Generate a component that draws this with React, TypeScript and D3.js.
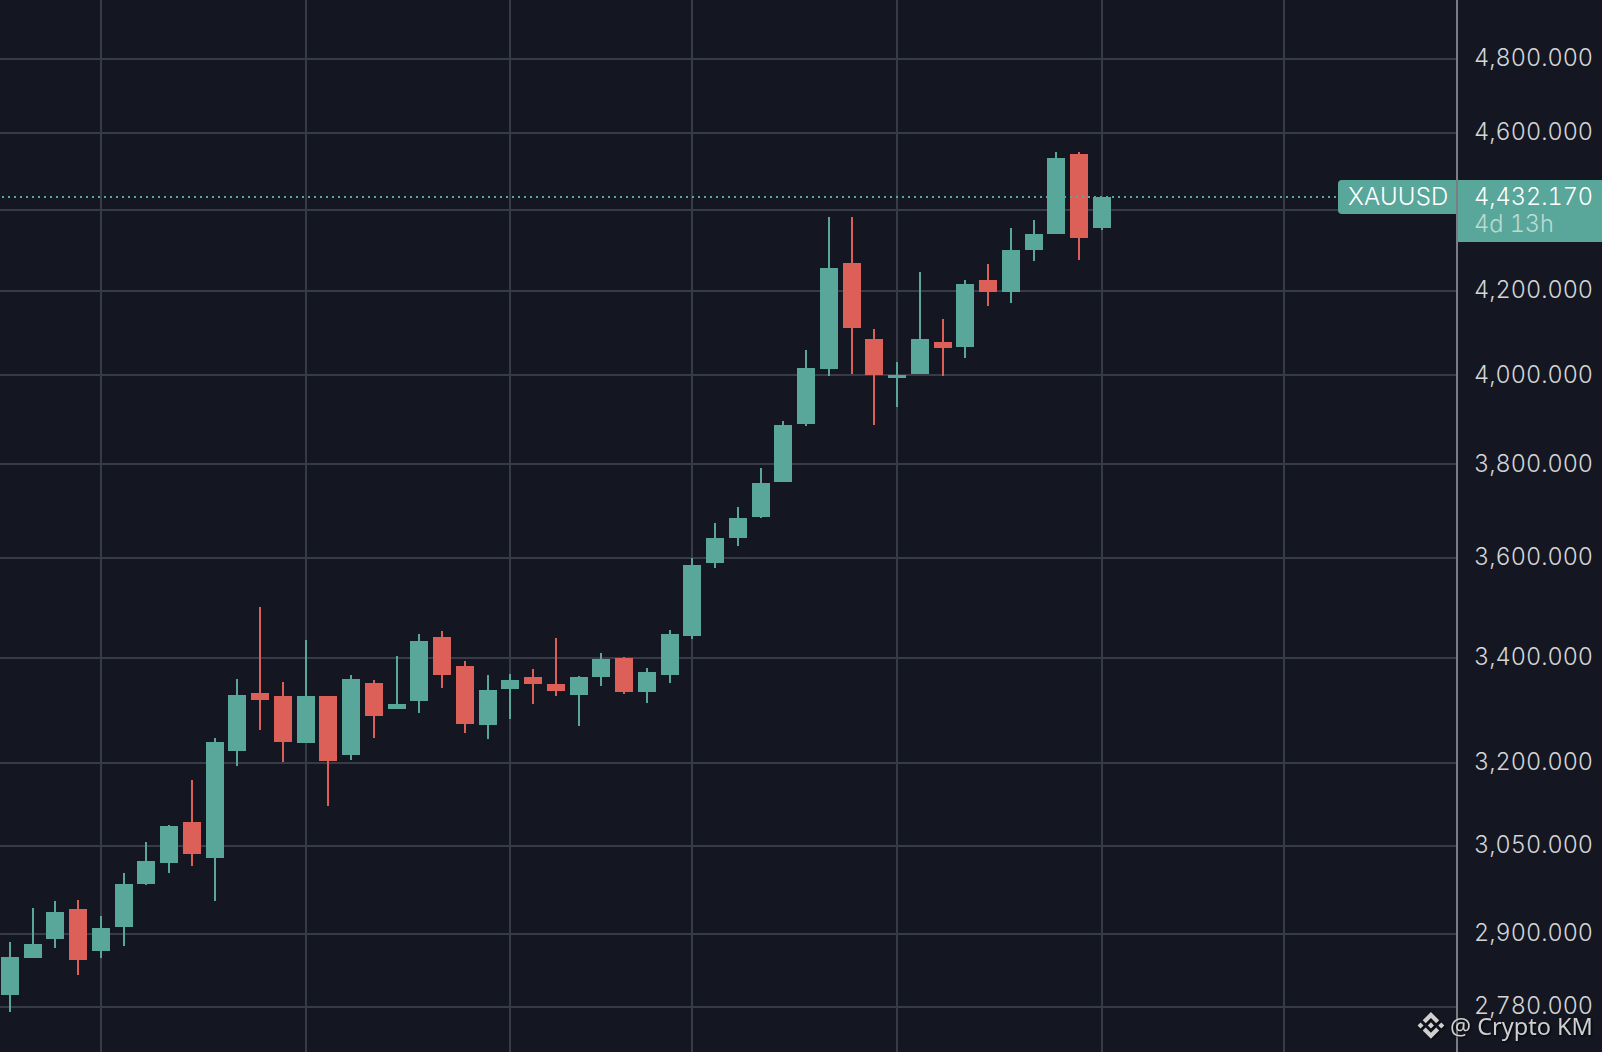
import { useEffect, useRef } from "react";
import * as d3 from "d3";

const opens = [2799, 2859, 2891, 2941, 2871, 2911, 2985, 3020, 3092, 3029, 3221, 3331, 3325, 3236, 3325, 3214, 3350, 3300, 3316, 3440, 3383, 3270, 3339, 3362, 3348, 3327, 3362, 3399, 3333, 3366, 3442, 3590, 3642, 3686, 3762, 3889, 4015, 4268, 4085, 3994, 4003, 4078, 4066, 4226, 4197, 4300, 4340, 4544, 4355];
const highs = [2886, 2943, 2955, 2957, 2929, 3004, 3057, 3087, 3168, 3246, 3358, 3500, 3352, 3434, 3325, 3366, 3356, 3403, 3446, 3452, 3393, 3366, 3368, 3377, 3438, 3364, 3409, 3401, 3379, 3454, 3600, 3674, 3708, 3792, 3896, 4059, 4382, 4382, 4108, 4031, 4246, 4132, 4226, 4265, 4355, 4375, 4550, 4550, 4433];
const lows = [2772, 2859, 2877, 2832, 2859, 2879, 2982, 3003, 3015, 2956, 3194, 3261, 3201, 3236, 3121, 3205, 3246, 3300, 3293, 3340, 3255, 3244, 3281, 3310, 3325, 3268, 3344, 3329, 3312, 3350, 3436, 3580, 3625, 3684, 3762, 3885, 3999, 4003, 3887, 3928, 4003, 3999, 4040, 4163, 4170, 4273, 4340, 4275, 4350];
const closes = [2861, 2883, 2936, 2856, 2909, 2984, 3024, 3085, 3036, 3238, 3327, 3317, 3238, 3325, 3203, 3358, 3287, 3310, 3432, 3366, 3272, 3337, 3356, 3348, 3335, 3362, 3397, 3333, 3371, 3446, 3586, 3642, 3684, 3759, 3887, 4017, 4255, 4111, 4001, 4001, 4085, 4064, 4216, 4197, 4300, 4340, 4534, 4330, 4432.17];

const priceTicks = [2780, 2900, 3050, 3200, 3400, 3600, 3800, 4000, 4200, 4400, 4600, 4800];
const timeTicks = [4, 13, 22, 30, 39, 48, 56]; // candle index of each vertical grid line
const lastPrice = 4432.17;
const symbol = "XAUUSD";
const countdown = "4d 13h";
const watermark = "@ Crypto KM";

const width = 1602;
const height = 1052;
const axisX = 1456;

const bg = "#141721";
const gridColor = "#373a47";
const upColor = "#59a69a";
const downColor = "#dc5f58";

const x = d3.scaleLinear().domain([0, 56]).range([9.9, 1283.9]);
const y = d3.scaleLog().domain([2780, 4800]).range([1007.1, 58.9]);

const BINANCE_LOGO =
  "M9.79 13.45 16 7.24l6.21 6.21 3.61-3.61L16 .02 6.18 9.84l3.61 3.61zM.02 16l3.61-3.61L7.24 16l-3.61 3.61L.02 16zm9.77 2.55L16 24.76l6.21-6.21 3.61 3.61L16 31.98l-9.82-9.82 3.61-3.61zM24.76 16l3.61-3.61L31.98 16l-3.61 3.61L24.76 16zm-5.1 0L16 19.66 12.34 16 16 12.34 19.66 16z";

const priceFont = { fontVariantNumeric: "tabular-nums", fontWeight: 300 };

export default function App() {
  const axisRef = useRef<SVGGElement>(null);

  useEffect(() => {
    if (!axisRef.current) return;
    const g = d3.select(axisRef.current);
    g.selectAll("*").remove();
    g.call(
      d3
        .axisRight(y)
        .tickValues(priceTicks.filter((d) => d !== 4400)) // hidden by the price tag
        .tickSize(0)
        .tickPadding(18)
        .tickFormat((d) => d3.format(",.3f")(d as number))
    );
    g.select(".domain").remove();
    g.selectAll("text")
      .attr("font-family", "Inter")
      .attr("font-size", 23.5)
      .attr("fill", "#d4d5d7")
      .attr("dy", "0.28em")
      .style("font-variant-numeric", "tabular-nums")
      .style("font-weight", 300);
  }, []);

  return (
    <svg
      width={width}
      height={height}
      style={{ position: "fixed", left: 0, top: 0, display: "block", background: bg }}
    >
      <g shapeRendering="crispEdges">
        {priceTicks.map((p) => (
          <rect key={p} x={0} y={Math.round(y(p)) - 1} width={axisX} height={2} fill={gridColor} />
        ))}
        {timeTicks.map((t) => (
          <rect key={t} x={Math.round(x(t)) - 1} y={0} width={2} height={height} fill={gridColor} />
        ))}

        {closes.map((c, i) => {
          const cx = Math.round(x(i));
          const color = c >= opens[i] ? upColor : downColor;
          const top = Math.round(y(Math.max(opens[i], c)));
          const bottom = Math.round(y(Math.min(opens[i], c)));
          const hi = Math.round(y(highs[i]));
          const lo = Math.round(y(lows[i]));
          return (
            <g key={i} fill={color}>
              <rect x={cx - 1} y={hi} width={2} height={lo - hi} />
              <rect x={cx - 9} y={top} width={18} height={Math.max(bottom - top, 2)} />
            </g>
          );
        })}

        <rect x={axisX} y={0} width={2} height={height} fill="#7b7d84" />
      </g>

      <line
        x1={2}
        x2={1336}
        y1={Math.round(y(lastPrice))}
        y2={Math.round(y(lastPrice))}
        stroke={upColor}
        strokeWidth={2}
        strokeDasharray="2 4"
      />

      <g ref={axisRef} transform={`translate(${axisX},0)`} />

      {/* last price tags */}
      <path d="M1458 180H1602V242H1458Z" fill={upColor} shapeRendering="crispEdges" />
      <path
        d="M1342 180H1456V214H1342A4 4 0 0 1 1338 210V184A4 4 0 0 1 1342 180Z"
        fill={upColor}
      />
      <text x={1348} y={205} fontFamily="Inter" fontSize={24} fontWeight={300} fill="#fff" letterSpacing={0.2}>
        {symbol}
      </text>
      <text x={1474} y={204.5} fontFamily="Inter" fontSize={23.5} fill="#fff" style={priceFont}>
        {d3.format(",.3f")(lastPrice)}
      </text>
      <text x={1474} y={232} fontFamily="Inter" fontSize={23.5} fill="#fff" fillOpacity={0.6} style={priceFont}>
        {countdown}
      </text>

      {/* watermark */}
      <g style={{ filter: "drop-shadow(1px 1px 1px rgba(0,0,0,0.8))" }} fill="#cfcfd1">
        <path d={BINANCE_LOGO} transform="translate(1417.5,1012) scale(0.84)" />
        <text x={1450} y={1035} fontFamily="Noto Sans" fontSize={23.5}>
          {watermark}
        </text>
      </g>
    </svg>
  );
}
